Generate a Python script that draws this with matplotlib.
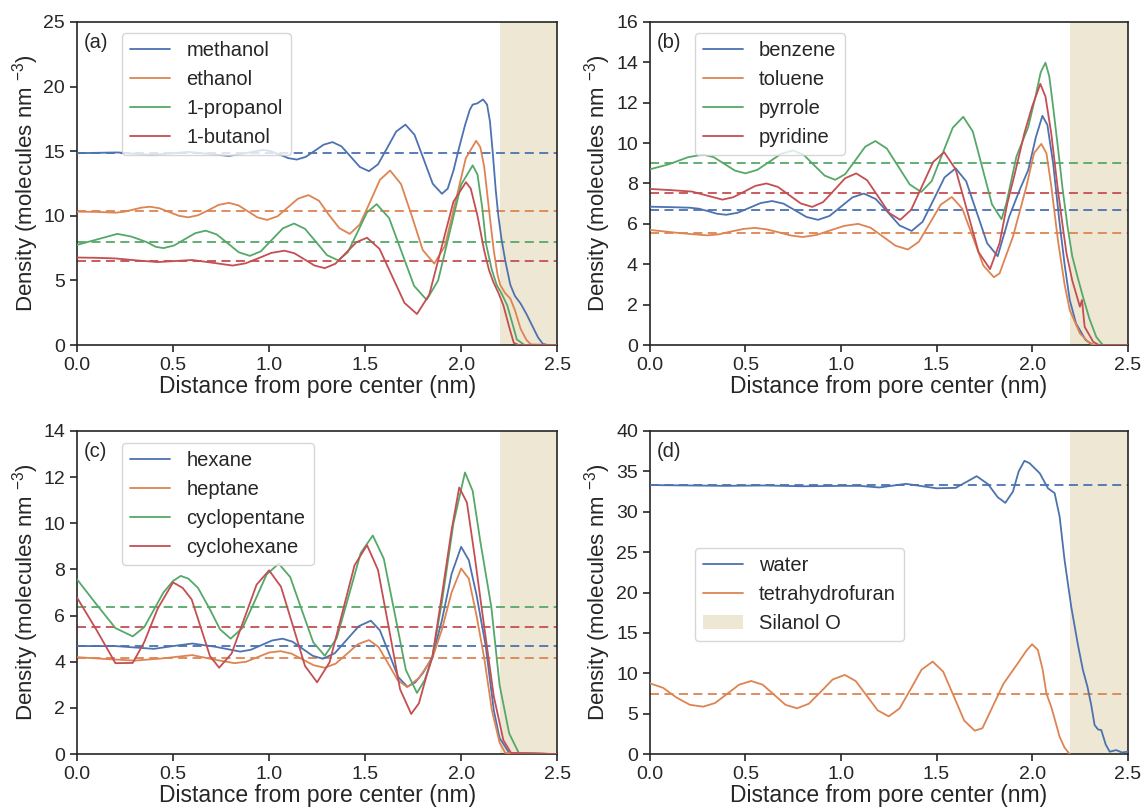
import numpy as np
import matplotlib
matplotlib.use('Agg')
import matplotlib.pyplot as plt
import seaborn as sns

sns.set_theme(style='ticks', palette='deep')
plt.rcParams['font.family'] = ['Liberation Sans', 'DejaVu Sans']
plt.rcParams['mathtext.fontset'] = 'custom'
plt.rcParams['mathtext.rm'] = 'Liberation Sans'
plt.rcParams['mathtext.it'] = 'Liberation Sans:italic'

# ---- panel (a): alcohols ----
a_names = ['methanol', 'ethanol', '1-propanol', '1-butanol']
a_bulk = [14.85, 10.35, 8.0, 6.5]
methanol_x = [0, 0.1, 0.21, 0.3, 0.39, 0.48, 0.58, 0.68, 0.79, 0.88, 0.97, 1.01, 1.057, 1.10, 1.144, 1.19,
              1.237, 1.284, 1.33, 1.377, 1.425, 1.472, 1.52, 1.567, 1.615, 1.662, 1.71, 1.757, 1.805, 1.852,
              1.90, 1.93, 1.96, 1.99, 2.02, 2.045, 2.06, 2.085, 2.114, 2.135, 2.15, 2.165, 2.18, 2.194, 2.21,
              2.23, 2.256, 2.28, 2.31, 2.34, 2.37, 2.40, 2.425, 2.45, 2.5]
methanol_y = [14.84, 14.87, 14.9, 14.8, 14.72, 14.82, 14.94, 14.8, 14.63, 14.85, 15.1, 14.99, 14.72, 14.46, 14.35, 14.55,
              15.02, 15.5, 15.7, 15.37, 14.57, 13.78, 13.45, 13.98, 15.25, 16.52, 17.05, 16.27, 14.37, 12.48,
              11.7, 12.1, 13.5, 15.3, 17.0, 18.2, 18.6, 18.7, 19.0, 18.6, 17.3, 14.8, 12.0, 9.95, 8.2,
              6.5, 4.66, 3.8, 3.2, 2.4, 1.5, 0.6, 0.1, 0, 0]
ethanol_x = [0, 0.1, 0.2, 0.245, 0.29, 0.335, 0.38, 0.43, 0.48, 0.53, 0.58, 0.63, 0.685, 0.737, 0.79, 0.84,
             0.89, 0.94, 0.99, 1.044, 1.097, 1.15, 1.205, 1.26, 1.31, 1.366, 1.42, 1.472, 1.525, 1.577, 1.63,
             1.687, 1.745, 1.80, 1.86, 1.915, 1.97, 2.024, 2.078, 2.10, 2.12, 2.149, 2.17, 2.19, 2.203, 2.23,
             2.256, 2.28, 2.31, 2.34, 2.363, 2.5]
ethanol_y = [10.32, 10.3, 10.24, 10.31, 10.47, 10.63, 10.7, 10.58, 10.29, 10.0, 9.88, 10.04, 10.44, 10.84, 11.0, 10.81,
             10.34, 9.87, 9.68, 9.96, 10.64, 11.32, 11.6, 11.16, 10.1, 9.04, 8.6, 9.32, 11.05, 12.78, 13.5,
             12.45, 9.9, 7.35, 6.3, 7.65, 11.05, 14.45, 15.8, 15.3, 13.8, 9.95, 7.3, 5.4, 4.66, 4.0,
             3.6, 2.7, 1.24, 0.4, 0.05, 0]
propanol_x = [0, 0.1, 0.21, 0.28, 0.32, 0.365, 0.41, 0.45, 0.505, 0.56, 0.615, 0.67, 0.727, 0.785, 0.842, 0.9,
              0.957, 1.015, 1.072, 1.13, 1.187, 1.245, 1.302, 1.36, 1.41, 1.46, 1.51, 1.56, 1.625, 1.69, 1.755,
              1.82, 1.88, 1.94, 2.0, 2.06, 2.085, 2.11, 2.13, 2.16, 2.185, 2.21, 2.24, 2.27, 2.29, 2.33, 2.5]
propanol_y = [7.75, 8.15, 8.6, 8.4, 8.2, 7.95, 7.6, 7.5, 7.7, 8.18, 8.65, 8.85, 8.56, 7.87, 7.18, 6.9,
              7.25, 8.15, 9.03, 9.4, 8.99, 7.97, 6.95, 6.55, 7.18, 8.72, 10.27, 10.9, 9.82, 7.2, 4.58,
              3.5, 4.99, 8.7, 12.41, 13.9, 13.2, 10.6, 7.8, 5.8, 4.66, 4.0, 3.07, 1.5, 0.43, 0, 0]
butanol_x = [0, 0.1, 0.2, 0.31, 0.42, 0.51, 0.6, 0.7, 0.81, 0.877, 0.945, 1.012, 1.08, 1.132, 1.185, 1.237,
             1.29, 1.345, 1.4, 1.455, 1.51, 1.575, 1.64, 1.705, 1.77, 1.834, 1.897, 1.96, 2.025, 2.05, 2.085,
             2.12, 2.145, 2.167, 2.195, 2.22, 2.25, 2.274, 2.3, 2.5]
butanol_y = [6.77, 6.75, 6.7, 6.55, 6.42, 6.5, 6.58, 6.38, 6.15, 6.32, 6.72, 7.13, 7.3, 7.1, 6.62, 6.15,
             5.95, 6.29, 7.12, 7.96, 8.3, 7.44, 5.35, 3.26, 2.4, 3.9, 7.5, 11.1, 12.6, 12.1, 10.0,
             7.3, 5.8, 4.9, 4.0, 3.07, 1.4, 0.17, 0, 0]

# ---- panel (b): aromatics ----
b_names = ['benzene', 'toluene', 'pyrrole', 'pyridine']
b_bulk = [6.7, 5.55, 9.0, 7.55]
benzene_x = [0, 0.1, 0.21, 0.257, 0.305, 0.352, 0.4, 0.46, 0.52, 0.58, 0.64, 0.7, 0.76, 0.82, 0.88, 0.94,
             1.0, 1.06, 1.12, 1.182, 1.245, 1.307, 1.37, 1.427, 1.485, 1.542, 1.6, 1.655, 1.71, 1.765, 1.82,
             1.88, 1.935, 1.98, 2.02, 2.054, 2.08, 2.11, 2.144, 2.17, 2.197, 2.23, 2.28, 2.32, 2.5]
benzene_y = [6.85, 6.83, 6.8, 6.75, 6.63, 6.5, 6.45, 6.55, 6.79, 7.03, 7.13, 7.0, 6.67, 6.34, 6.2, 6.39,
             6.85, 7.31, 7.5, 7.23, 6.58, 5.92, 5.65, 6.1, 7.2, 8.3, 8.75, 8.11, 6.58, 5.04, 4.4,
             6.35, 7.68, 8.67, 10.3, 11.35, 10.9, 9.0, 6.03, 4.0, 2.23, 1.07, 0.25, 0, 0]
toluene_x = [0, 0.15, 0.3, 0.36, 0.425, 0.49, 0.55, 0.61, 0.675, 0.74, 0.8, 0.872, 0.945, 1.017, 1.09, 1.155,
             1.22, 1.285, 1.35, 1.407, 1.465, 1.522, 1.58, 1.635, 1.69, 1.745, 1.8, 1.83, 1.9, 1.97, 2.01,
             2.048, 2.075, 2.10, 2.135, 2.17, 2.197, 2.25, 2.3, 2.33, 2.5]
toluene_y = [5.7, 5.55, 5.43, 5.48, 5.62, 5.75, 5.8, 5.73, 5.58, 5.42, 5.35, 5.45, 5.68, 5.9, 6.0, 5.81,
             5.37, 4.92, 4.73, 5.11, 6.03, 6.95, 7.33, 6.75, 5.35, 3.94, 3.36, 3.55, 5.37, 7.84, 9.5,
             9.96, 9.5, 7.9, 5.2, 3.0, 1.73, 0.58, 0.1, 0, 0]
pyrrole_x = [0, 0.1, 0.2, 0.28, 0.335, 0.39, 0.445, 0.5, 0.562, 0.625, 0.687, 0.75, 0.805, 0.86, 0.915, 0.97,
             1.022, 1.075, 1.127, 1.18, 1.24, 1.3, 1.36, 1.42, 1.475, 1.53, 1.585, 1.64, 1.69, 1.74, 1.79,
             1.84, 1.865, 1.918, 1.98, 2.02, 2.045, 2.07, 2.09, 2.11, 2.135, 2.16, 2.185, 2.21, 2.24, 2.266,
             2.3, 2.336, 2.37, 2.5]
pyrrole_y = [8.7, 8.95, 9.3, 9.43, 9.3, 8.97, 8.64, 8.5, 8.67, 9.07, 9.47, 9.63, 9.42, 8.9, 8.39, 8.18,
             8.46, 9.14, 9.82, 10.1, 9.73, 8.84, 7.95, 7.58, 8.12, 9.44, 10.76, 11.3, 10.57, 8.77, 6.97,
             6.23, 7.0, 9.33, 10.8, 12.4, 13.5, 13.98, 13.3, 11.8, 9.8, 7.7, 5.9, 4.4, 3.3, 2.4,
             1.3, 0.4, 0, 0]
pyridine_x = [0, 0.11, 0.22, 0.3, 0.38, 0.437, 0.495, 0.552, 0.61, 0.67, 0.73, 0.79, 0.85, 0.907, 0.965, 1.022,
              1.08, 1.137, 1.195, 1.252, 1.31, 1.367, 1.425, 1.482, 1.54, 1.6, 1.66, 1.72, 1.78, 1.83, 1.87,
              1.91, 1.96, 2.0, 2.043, 2.07, 2.1, 2.135, 2.16, 2.18, 2.21, 2.24, 2.25, 2.261, 2.275, 2.32,
              2.35, 2.5]
pyridine_y = [7.73, 7.67, 7.6, 7.4, 7.2, 7.32, 7.6, 7.88, 8.0, 7.83, 7.42, 7.01, 6.84, 7.08, 7.67, 8.26,
              8.5, 8.16, 7.35, 6.54, 6.2, 6.69, 7.88, 9.06, 9.55, 8.7, 6.66, 4.6, 3.76, 5.05, 7.0,
              8.5, 10.5, 11.8, 12.93, 12.3, 10.5, 7.68, 5.9, 4.54, 3.2, 2.23, 1.9, 2.23, 0.9, 0.16,
              0, 0]

# ---- panel (c): alkanes ----
c_names = ['hexane', 'heptane', 'cyclopentane', 'cyclohexane']
c_bulk = [4.67, 4.16, 6.38, 5.52]
hexane_x = [0, 0.2, 0.4, 0.5, 0.6, 0.72, 0.85, 0.905, 0.96, 1.015, 1.07, 1.122, 1.175, 1.227, 1.28, 1.342,
            1.405, 1.467, 1.53, 1.577, 1.625, 1.672, 1.72, 1.76, 1.8, 1.85, 1.9, 1.95, 2.0, 2.04, 2.08,
            2.128, 2.17, 2.2, 2.25, 2.5]
hexane_y = [4.68, 4.68, 4.56, 4.68, 4.79, 4.65, 4.44, 4.52, 4.72, 4.92, 5.0, 4.87, 4.56, 4.26, 4.13, 4.37,
            4.96, 5.54, 5.78, 5.36, 4.35, 3.34, 2.92, 3.1, 3.5, 4.2, 5.8, 7.8, 8.98, 8.4, 6.9,
            4.67, 1.9, 0.7, 0.05, 0]
heptane_x = [0, 0.15, 0.3, 0.45, 0.6, 0.71, 0.82, 0.88, 0.94, 1.0, 1.06, 1.117, 1.175, 1.232, 1.29, 1.347,
             1.405, 1.462, 1.52, 1.57, 1.62, 1.67, 1.72, 1.78, 1.85, 1.9, 1.95, 2.0, 2.04, 2.08, 2.12,
             2.16, 2.2, 2.23, 2.5]
heptane_y = [4.2, 4.12, 4.05, 4.15, 4.29, 4.1, 3.94, 4.0, 4.2, 4.4, 4.46, 4.35, 4.1, 3.85, 3.74, 3.92,
             4.34, 4.76, 4.94, 4.64, 3.92, 3.2, 2.9, 3.3, 4.15, 5.4, 7.0, 8.04, 7.6, 6.0, 4.17,
             1.9, 0.5, 0.05, 0]
cyclopentane_x = [0, 0.1, 0.2, 0.29, 0.35, 0.45, 0.5, 0.54, 0.58, 0.63, 0.69, 0.745, 0.8, 0.862, 0.925, 0.987,
                  1.05, 1.11, 1.17, 1.23, 1.29, 1.352, 1.415, 1.477, 1.54, 1.597, 1.655, 1.712, 1.77, 1.81,
                  1.85, 1.9, 1.96, 2.02, 2.06, 2.1, 2.157, 2.2, 2.25, 2.3, 2.5]
cyclopentane_y = [7.57, 6.5, 5.46, 5.1, 5.5, 7.0, 7.5, 7.72, 7.6, 7.2, 6.3, 5.4, 5.0, 5.47, 6.62, 7.78,
                  8.25, 7.67, 6.25, 4.84, 4.26, 5.02, 6.86, 8.71, 9.47, 8.47, 6.06, 3.65, 2.65, 3.2,
                  4.2, 6.6, 10.0, 12.2, 11.4, 9.2, 6.38, 3.0, 0.9, 0.05, 0]
cyclohexane_x = [0, 0.1, 0.2, 0.29, 0.35, 0.42, 0.5, 0.55, 0.597, 0.645, 0.692, 0.74, 0.805, 0.87, 0.935, 1.0,
                 1.062, 1.125, 1.187, 1.25, 1.315, 1.38, 1.445, 1.51, 1.567, 1.625, 1.682, 1.74, 1.78, 1.82,
                 1.85, 1.9, 1.95, 1.99, 2.03, 2.07, 2.12, 2.17, 2.22, 2.26, 2.5]
cyclohexane_y = [6.78, 5.4, 3.94, 3.95, 4.85, 6.3, 7.44, 7.2, 6.7, 5.47, 4.25, 3.74, 4.36, 5.85, 7.34, 7.96,
                 7.25, 5.53, 3.82, 3.11, 3.98, 6.08, 8.18, 9.05, 7.98, 5.4, 2.81, 1.74, 2.2, 3.4,
                 4.2, 6.9, 9.7, 11.55, 10.9, 8.6, 5.52, 2.5, 0.6, 0.05, 0]

# ---- panel (d): water / THF ----
d_names = ['water', 'tetrahydrofuran']
d_bulk = [33.3, 7.4]
water_x = [0, 0.2, 0.4, 0.6, 0.8, 1.0, 1.1, 1.2, 1.34, 1.5, 1.6, 1.65, 1.71, 1.77, 1.82, 1.86, 1.9, 1.93,
           1.96, 1.987, 2.04, 2.083, 2.118, 2.144, 2.17, 2.205, 2.24, 2.266, 2.29, 2.31, 2.327, 2.345, 2.362,
           2.385, 2.406, 2.44, 2.47, 2.5]
water_y = [33.3, 33.25, 33.2, 33.25, 33.15, 33.2, 33.2, 33.0, 33.45, 32.9, 32.95, 33.6, 34.4, 33.4, 31.8,
           31.1, 32.5, 35.0, 36.3, 36.0, 34.76, 32.9, 32.3, 29.4, 24.0, 18.2, 13.5, 10.4, 8.3, 6.0, 3.6,
           3.05, 2.97, 1.2, 0.3, 0.5, 0.2, 0.3]
thf_x = [0, 0.07, 0.14, 0.21, 0.28, 0.342, 0.405, 0.467, 0.53, 0.59, 0.65, 0.71, 0.77, 0.832, 0.895, 0.957,
         1.02, 1.077, 1.135, 1.192, 1.25, 1.307, 1.365, 1.422, 1.48, 1.535, 1.59, 1.645, 1.7, 1.74, 1.8,
         1.85, 1.93, 1.97, 2.0, 2.03, 2.055, 2.075, 2.1, 2.12, 2.144, 2.17, 2.197]
thf_y = [8.77, 8.2, 7.0, 6.1, 5.87, 6.33, 7.46, 8.59, 9.05, 8.6, 7.36, 6.1, 5.67, 6.23, 7.73, 9.24,
         9.8, 9.05, 7.23, 5.42, 4.67, 5.66, 8.06, 10.46, 11.45, 10.2, 7.18, 4.15, 2.9, 3.2, 6.2,
         8.7, 11.4, 12.8, 13.6, 12.9, 10.5, 7.5, 5.86, 4.2, 2.14, 0.8, 0.0]

panels = [
    ('(a)', [(methanol_x, methanol_y), (ethanol_x, ethanol_y), (propanol_x, propanol_y), (butanol_x, butanol_y)],
     a_names, a_bulk, 25, 5, (0.094, 0.966)),
    ('(b)', [(benzene_x, benzene_y), (toluene_x, toluene_y), (pyrrole_x, pyrrole_y), (pyridine_x, pyridine_y)],
     b_names, b_bulk, 16, 2, (0.094, 0.966)),
    ('(c)', [(hexane_x, hexane_y), (heptane_x, heptane_y), (cyclopentane_x, cyclopentane_y),
             (cyclohexane_x, cyclohexane_y)],
     c_names, c_bulk, 14, 2, (0.094, 0.963)),
    ('(d)', [(water_x, water_y), (thf_x, thf_y)], d_names, d_bulk, 40, 5, (0.094, 0.638)),
]

colors = sns.color_palette('deep')
silanol_color = '#EEE7D4'

fig = plt.figure(figsize=(11.46, 8.10), dpi=100)
boxes = [(0.0672, 0.574, 0.419, 0.399), (0.567, 0.574, 0.417, 0.399),
         (0.0672, 0.069, 0.419, 0.399), (0.567, 0.069, 0.417, 0.399)]

for box, (tag, series, names, bulk, ymax, ystep, leg_pos) in zip(boxes, panels):
    ax = fig.add_axes(box)
    for i, ((x, y), name) in enumerate(zip(series, names)):
        ax.plot(x, y, color=colors[i], lw=1.3, label=name, zorder=3, solid_joinstyle='round')
    for i, b in enumerate(bulk):
        ax.axhline(b, color=colors[i], lw=1.3, ls=(0, (5, 3)), zorder=2)
    ax.axvspan(2.2, 2.5, color=silanol_color, lw=0, zorder=1,
               label='Silanol O' if tag == '(d)' else None)
    ax.set_xlim(0, 2.5)
    ax.set_ylim(0, ymax)
    ax.set_xticks(np.arange(0, 2.51, 0.5))
    ax.set_yticks(np.arange(0, ymax + 0.1, ystep))
    ax.xaxis.set_major_formatter(plt.FormatStrFormatter('%.1f'))
    ax.tick_params(labelsize=14, length=5, width=1.2, direction='out')
    for sp in ax.spines.values():
        sp.set_linewidth(1.2)
    ax.set_xlabel('Distance from pore center (nm)', fontsize=16.5, labelpad=1)
    ax.set_ylabel(r'Density (molecules nm $^{-3}$)', fontsize=16, labelpad=2)
    ax.text(0.014, 0.965, tag, transform=ax.transAxes, ha='left', va='top', fontsize=14.5)
    ax.legend(loc='upper left', bbox_to_anchor=leg_pos, borderaxespad=0, fontsize=14.5,
              frameon=True, handlelength=2.0)

fig.savefig('out.png', dpi=100)
